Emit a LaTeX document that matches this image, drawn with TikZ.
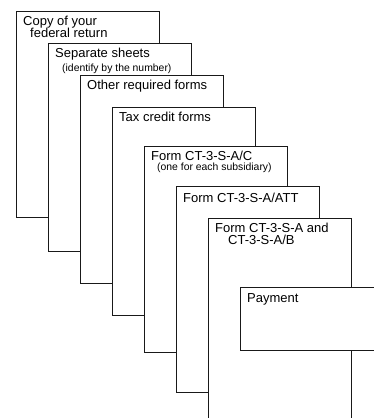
\documentclass[tikz,border=0pt]{standalone}
\usepackage{fontspec}
\setmainfont{Liberation Sans}
\begin{document}
\begin{tikzpicture}[x=1pt,y=-1pt,
  sheet/.style={draw=black!90, line width=0.9pt, fill=white, anchor=north west,
    inner sep=0pt, minimum width=143pt, minimum height=#1},
  big/.style={anchor=base west, inner sep=0pt, font=\fontsize{13}{13}\selectfont},
  small/.style={anchor=base west, inner sep=0pt, font=\fontsize{10.4}{10.4}\selectfont}]
\useasboundingbox (0,0) rectangle (374,418);
\clip (0,0) rectangle (374,418);
\node[sheet=206pt] (s1) at (16,11) {};
\node[sheet=208pt] (s2) at (48,43) {};
\node[sheet=208pt] (s3) at (80,75) {};
\node[sheet=208pt] (s4) at (112,107) {};
\node[sheet=206pt] (s5) at (144,146) {};
\node[sheet=206pt] (s6) at (176,186) {};
\node[sheet=206pt] (s7) at (208,218) {};
\node[sheet=63pt] (s8) at (240,287) {};
\node[big] (t1a) at (23,25) {Copy of your};
\node[big] (t1b) at (30,37) {federal return};
\node[big] (t2a) at (55,57) {Separate sheets};
\node[small] (t2b) at (62,71) {(identify by the number)};
\node[big] (t3) at (87,89.5) {Other required forms};
\node[big] (t4) at (119,121.5) {Tax credit forms};
\node[big] (t5a) at (151,160.5) {Form CT-3-S-A/C};
\node[small] (t5b) at (157,170.5) {(one for each subsidiary)};
\node[big] (t6) at (183,202) {Form CT-3-S-A/ATT};
\node[big] (t7a) at (215,232) {Form CT-3-S-A and};
\node[big] (t7b) at (228,244) {CT-3-S-A/B};
\node[big] (t8) at (247,302) {Payment};
\end{tikzpicture}
\end{document}
